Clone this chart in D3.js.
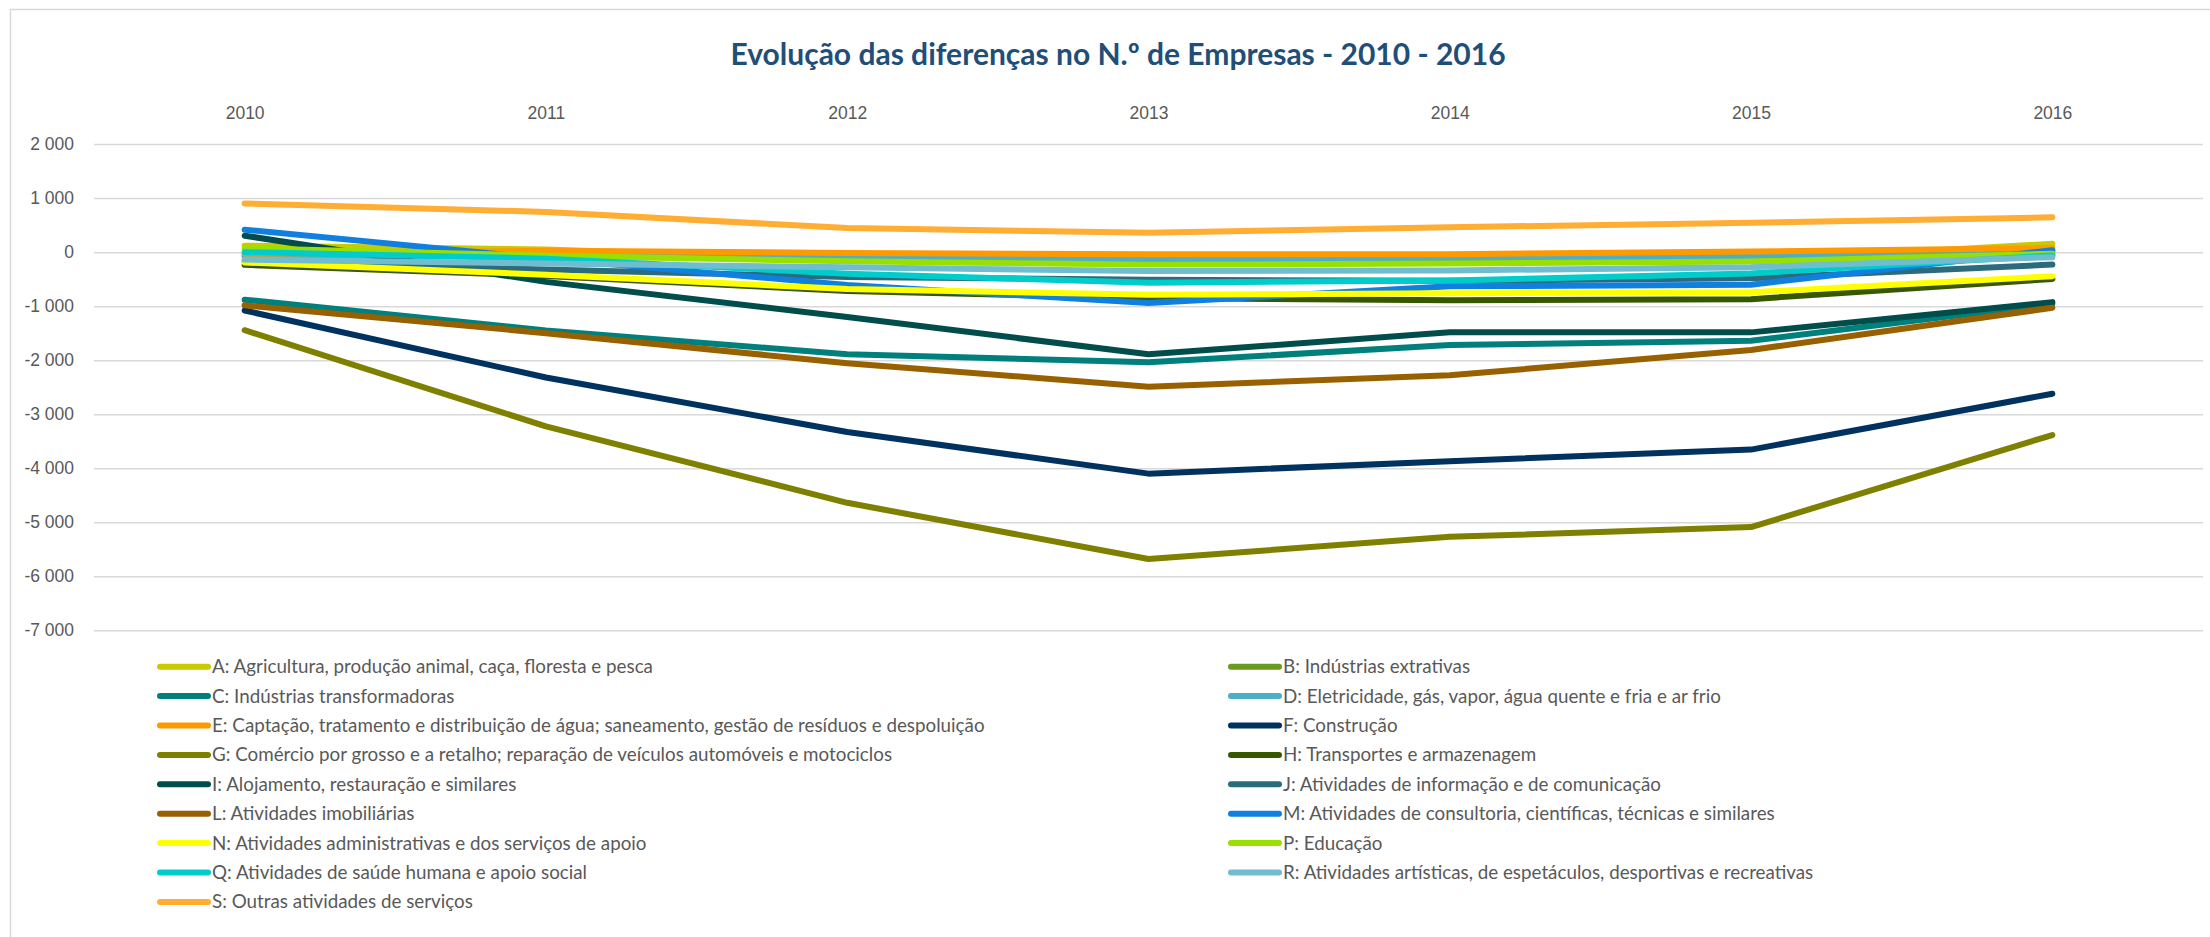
<!DOCTYPE html>
<html>
<head>
<meta charset="UTF-8" />
<script src="https://d3js.org/d3.v7.min.js"></script>
<title>Evolução das diferenças no N.º de Empresas</title>
<style>
  body { margin: 0; background: #fff; }
  svg { display: block; font-family: Lato, "Open Sans", sans-serif; }
  .axis text { fill: #595959; font-size: 17.5px; }
  .legend text { fill: #595959; font-size: 18.8px; }
</style>
</head>
<body>
<div id="chart"></div>
<script>
// categories
const years = ["2010", "2011", "2012", "2013", "2014", "2015", "2016"];

// series names (legend order)
const seriesNames = [
  "A: Agricultura, produção animal, caça, floresta e pesca",
  "B: Indústrias extrativas",
  "C: Indústrias transformadoras",
  "D: Eletricidade, gás, vapor, água quente e fria e ar frio",
  "E: Captação, tratamento e distribuição de água; saneamento, gestão de resíduos e despoluição",
  "F: Construção",
  "G: Comércio por grosso e a retalho; reparação de veículos automóveis e motociclos",
  "H: Transportes e armazenagem",
  "I: Alojamento, restauração e similares",
  "J: Atividades de informação e de comunicação",
  "L: Atividades imobiliárias",
  "M: Atividades de consultoria, científicas, técnicas e similares",
  "N: Atividades administrativas e dos serviços de apoio",
  "P: Educação",
  "Q: Atividades de saúde humana e apoio social",
  "R: Atividades artísticas, de espetáculos, desportivas e recreativas",
  "S: Outras atividades de serviços"
];

const seriesColors = ["#C9CA00", "#6B9A1F", "#00807C", "#4BAFC8", "#FF9900", "#003260",
  "#7F7F00", "#385800", "#004D4B", "#2B6B7B", "#996000", "#1080E0", "#FFFF00",
  "#99E000", "#00CCCC", "#70BDD0", "#FFAD33"];

// values per series (2010..2016)
const valA = [120, 50, -140, -180, -200, -160, 155];
const valB = [-60, -60, -110, -130, -115, -110, 10];
const valC = [-880, -1450, -1890, -2040, -1720, -1640, -955];
const valD = [-80, -70, -100, -115, -105, -70, -50];
const valE = [-30, 25, -15, -40, -37, 10, 75];
const valF = [-1080, -2320, -3330, -4100, -3870, -3655, -2620];
const valG = [-1445, -3225, -4640, -5680, -5270, -5090, -3385];
const valH = [-235, -440, -720, -850, -890, -870, -495];
const valI = [305, -550, -1200, -1890, -1485, -1485, -925];
const valJ = [-170, -320, -460, -510, -530, -484, -230];
const valL = [-985, -1500, -2055, -2490, -2280, -1810, -1030];
const valM = [416, -120, -610, -940, -633, -602, 37];
const valN = [-190, -420, -680, -790, -760, -744, -446];
const valP = [70, -65, -170, -230, -211, -175, -30];
const valQ = [0, -120, -400, -565, -525, -395, -60];
const valR = [-138, -210, -280, -350, -338, -280, -93];
const valS = [900, 745, 445, 360, 460, 546, 645];

const yTicks = [2000, 1000, 0, -1000, -2000, -3000, -4000, -5000, -6000, -7000];

const allValues = [valA, valB, valC, valD, valE, valF, valG, valH, valI, valJ,
  valL, valM, valN, valP, valQ, valR, valS];
const series = seriesNames.map((name, i) => ({ name, color: seriesColors[i], values: allValues[i] }));

const W = 2210, H = 937;
const svg = d3.select("#chart").append("svg").attr("width", W).attr("height", H);

svg.append("rect").attr("x", 10.5).attr("y", 9.5).attr("width", W).attr("height", H)
  .attr("fill", "#fff").attr("stroke", "#d9d9d9").attr("stroke-width", 1.5);

svg.append("text")
  .attr("x", 1118).attr("y", 65)
  .attr("text-anchor", "middle")
  .attr("fill", "#1F4E79")
  .attr("font-size", 30).attr("font-weight", "bold")
  .text("Evolução das diferenças no N.º de Empresas - 2010 - 2016");

const left = 94, right = 2203;
const x = d3.scalePoint().domain(years).range([left, right]).padding(0.5);
const y = d3.scaleLinear().domain([-7000, 2000]).range([630.3, 144.1]);

const fmt = d3.formatLocale({ decimal: ",", thousands: " ", grouping: [3], currency: ["", ""], minus: "-" }).format(",");

// y axis + gridlines
const gy = svg.append("g").attr("class", "axis")
  .attr("transform", `translate(${left},0)`)
  .call(d3.axisLeft(y).tickValues(yTicks).tickFormat(fmt).tickSize(-(right - left)).tickPadding(20));
gy.select(".domain").remove();
gy.selectAll(".tick line").attr("stroke", "#d9d9d9").attr("stroke-width", 1.5);

// year labels on top
const gx = svg.append("g").attr("class", "axis")
  .attr("transform", "translate(0,125)")
  .call(d3.axisTop(x).tickSize(0).tickPadding(6));
gx.select(".domain").remove();

// lines
const line = d3.line().x((d, i) => x(years[i])).y(d => y(d));
svg.append("g").selectAll("path").data(series).join("path")
  .attr("d", d => line(d.values))
  .attr("fill", "none")
  .attr("stroke", d => d.color)
  .attr("stroke-width", 6)
  .attr("stroke-linejoin", "round")
  .attr("stroke-linecap", "round");

// legend, two columns
const legend = svg.append("g").attr("class", "legend");
const items = legend.selectAll("g").data(series).join("g")
  .attr("transform", (d, i) => `translate(${i % 2 === 0 ? 160 : 1231},${666.7 + Math.floor(i / 2) * 29.4})`);
items.append("line").attr("x1", 0).attr("x2", 48).attr("y1", 0).attr("y2", 0)
  .attr("stroke", d => d.color).attr("stroke-width", 6).attr("stroke-linecap", "round");
items.append("text").attr("x", 52).attr("dy", "0.35em").text(d => d.name);
</script>
</body>
</html>
